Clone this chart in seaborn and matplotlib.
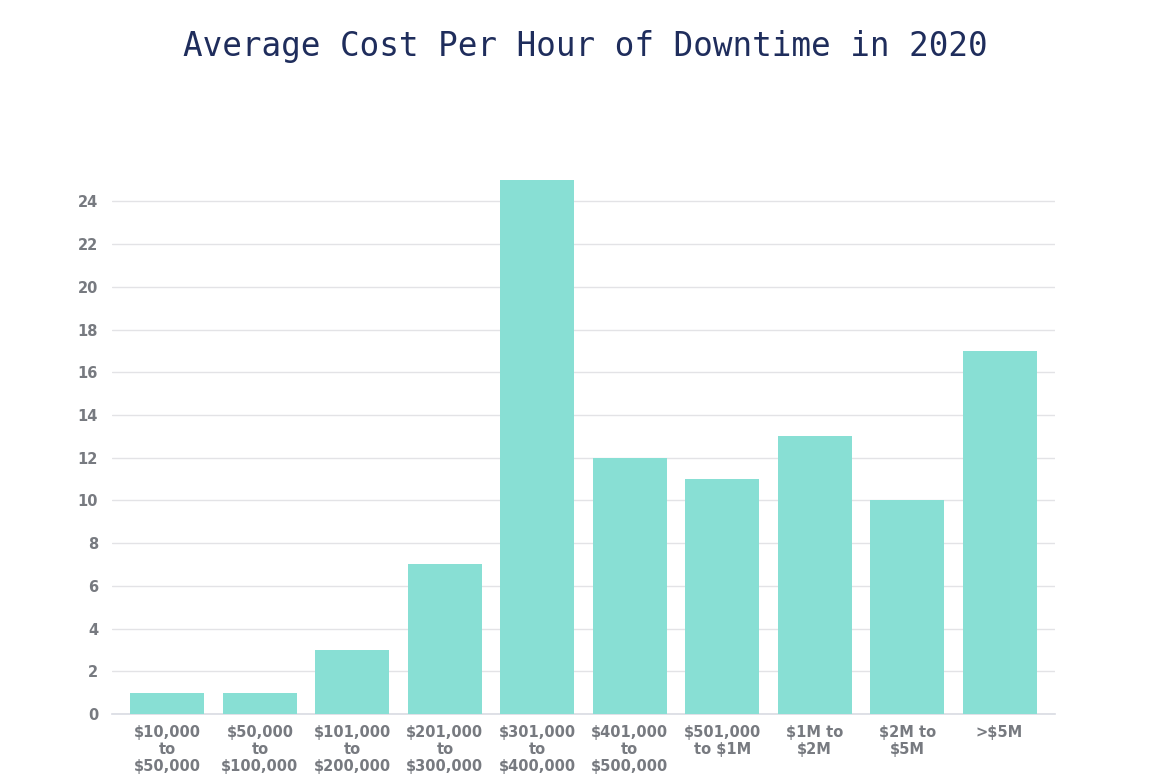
import matplotlib
matplotlib.use("Agg")
import matplotlib.pyplot as plt
import seaborn as sns
import pandas as pd

# Chart data
categories = [
    "$10,000\nto\n$50,000",
    "$50,000\nto\n$100,000",
    "$101,000\nto\n$200,000",
    "$201,000\nto\n$300,000",
    "$301,000\nto\n$400,000",
    "$401,000\nto\n$500,000",
    "$501,000\nto $1M",
    "$1M to\n$2M",
    "$2M to\n$5M",
    ">$5M",
]
values = [1, 1, 3, 7, 25, 12, 11, 13, 10, 17]
y_ticks = list(range(0, 26, 2))

df = pd.DataFrame({"range": categories, "count": values})

sns.set_style("white")

fig = plt.figure(figsize=(11.71, 7.81), dpi=100)
ax = fig.add_axes([0.0956, 0.0858, 0.8054, 0.6837])

sns.barplot(data=df, x="range", y="count", color="#88dfd4",
            saturation=1, width=0.8, linewidth=0, ax=ax, zorder=3)

ax.set_xlim(-0.6, 9.6)
ax.set_ylim(0, 25)
ax.set_yticks([t for t in y_ticks if t <= 24])
ax.grid(axis="y", color="#e3e3e6", linewidth=1, zorder=0)
ax.grid(axis="x", visible=False)

for s in ["top", "right", "left"]:
    ax.spines[s].set_visible(False)
ax.spines["bottom"].set_color("#d9dbe3")
ax.spines["bottom"].set_linewidth(1.2)

ax.tick_params(axis="both", length=0, colors="#777a80")
ax.tick_params(axis="y", pad=10)
ax.tick_params(axis="x", pad=8)
for lbl in ax.get_yticklabels():
    lbl.set_fontsize(10.5)
    lbl.set_fontweight("bold")
    lbl.set_color("#777a80")
for lbl in ax.get_xticklabels():
    lbl.set_fontsize(10.5)
    lbl.set_fontweight("bold")
    lbl.set_color("#777a80")
    lbl.set_linespacing(1.15)

ax.set_xlabel("")
ax.set_ylabel("")

fig.text(0.5, 0.94, "Average Cost Per Hour of Downtime in 2020",
         ha="center", va="center", fontsize=23.5,
         family="DejaVu Sans Mono", color="#1f2d5c")

fig.savefig("out.png", dpi=100, facecolor="white")
